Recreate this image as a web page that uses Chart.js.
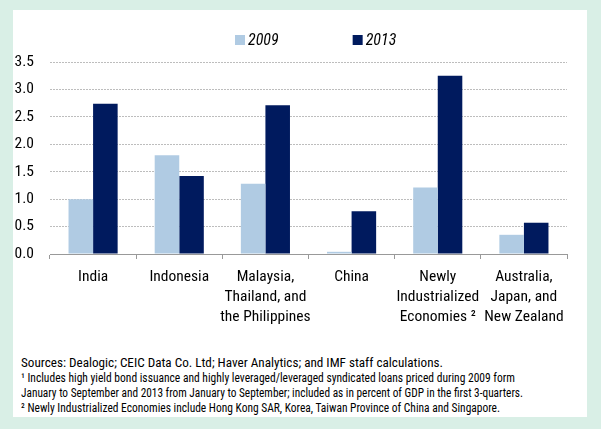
<!DOCTYPE html>
<html>
<head>
<meta charset="utf-8">
<script src="https://cdn.jsdelivr.net/npm/chart.js@4.4.0/dist/chart.umd.min.js"></script>
<style>
  html, body { margin: 0; padding: 0; }
  body { width: 601px; height: 429px; background: #d9efe6; position: relative; overflow: hidden; }
  #panel { position: absolute; left: 13px; top: 10px; width: 574px; height: 407px; background: #ffffff; }
  #chartBox { position: absolute; left: 0; top: 0; width: 574px; height: 320px; }
  #notes { position: absolute; left: 8px; top: 345px; font-family: Roboto, "Open Sans", sans-serif; font-stretch: condensed; font-size: 12.6px; line-height: 15px; color: #000; white-space: nowrap; }
  #notes div { height: 15px; }
  #notes span { display: inline-block; transform-origin: 0 50%; }
</style>
</head>
<body>
<div id="panel">
  <div id="chartBox"><canvas id="c" width="574" height="320"></canvas></div>
  <div id="notes">
    <div><span data-w="422">Sources: Dealogic; CEIC Data Co. Ltd; Haver Analytics; and IMF staff calculations.</span></div>
    <div><span data-w="494">¹ Includes high yield bond issuance and highly leveraged/leveraged syndicated loans priced during 2009 form</span></div>
    <div><span data-w="502">January to September and 2013 from January to September; included as in percent of GDP in the first 3-quarters.</span></div>
    <div><span data-w="479">² Newly Industrialized Economies include Hong Kong SAR, Korea, Taiwan Province of China and Singapore.</span></div>
  </div>
</div>
<script>
const categories = [
  ["India"],
  ["Indonesia"],
  ["Malaysia,", "Thailand, and", "the Philippines"],
  ["China"],
  ["Newly", "Industrialized", "Economies ²"],
  ["Australia,", "Japan, and", "New Zealand"]
];
const seriesNames = ["2009", "2013"];
const values2009 = [1.00, 1.80, 1.28, 0.04, 1.21, 0.35];
const values2013 = [2.74, 1.42, 2.71, 0.78, 3.25, 0.57];
const yTicks = [0, 0.5, 1.0, 1.5, 2.0, 2.5, 3.0, 3.5];

const FONT = 'Roboto, "Open Sans", sans-serif';
const colors = ["#b0cbe3", "#001a5e"];

// fit footnote lines to their measured widths in the reference
document.querySelectorAll('#notes span').forEach(s => {
  const w = s.getBoundingClientRect().width;
  const target = Number(s.dataset.w);
  if (w > 0) s.style.transform = 'scaleX(' + (target / w).toFixed(4) + ')';
});

const legendPlugin = {
  id: 'customLegend',
  afterDraw(chart) {
    const ctx = chart.ctx;
    ctx.save();
    ctx.font = 'italic normal condensed 16px ' + FONT;
    ctx.textBaseline = 'middle';
    ctx.textAlign = 'left';
    let x = 222;
    const yc = 30;
    chart.data.datasets.forEach((ds, i) => {
      ctx.fillStyle = ds.backgroundColor;
      ctx.fillRect(x, yc - 5, 10, 10);
      ctx.fillStyle = '#000';
      ctx.fillText(ds.label, x + 13, yc + 1);
      x += 13 + ctx.measureText(ds.label).width + 74;
    });
    ctx.restore();
  }
};

new Chart(document.getElementById('c'), {
  type: 'bar',
  data: {
    labels: categories,
    datasets: [
      { label: seriesNames[0], data: values2009, backgroundColor: colors[0], borderWidth: 0 },
      { label: seriesNames[1], data: values2013, backgroundColor: colors[1], borderWidth: 0 }
    ]
  },
  options: {
    responsive: false,
    devicePixelRatio: 1,
    animation: false,
    layout: { padding: { top: 52, right: 20, bottom: 0, left: 0 } },
    plugins: { legend: { display: false }, tooltip: { enabled: false } },
    datasets: { bar: { categoryPercentage: 0.57, barPercentage: 1.0 } },
    scales: {
      x: {
        grid: { offset: true, drawOnChartArea: false, drawTicks: true, tickLength: 5, color: '#999999' },
        border: { display: true, color: '#999999', width: 1 },
        ticks: { color: '#000', padding: 8, maxRotation: 0, autoSkip: false, font: { family: FONT, size: 15.5, weight: 'normal condensed', lineHeight: 1.3 } },
        afterFit(scale) { scale.height = 76; }
      },
      y: {
        min: 0, max: 3.5,
        afterBuildTicks(scale) { scale.ticks = yTicks.map(v => ({ value: v })); },
        grid: { drawTicks: false, color: '#bdbdbd', lineWidth: 1 },
        border: { display: false, dash: [2, 1] },
        ticks: { color: '#000', padding: 16, font: { family: FONT, size: 15.5, weight: 'normal condensed' }, callback: v => Number(v).toFixed(1) },
        afterFit(scale) { scale.width = 37; }
      }
    }
  },
  plugins: [legendPlugin]
});
</script>
</body>
</html>
